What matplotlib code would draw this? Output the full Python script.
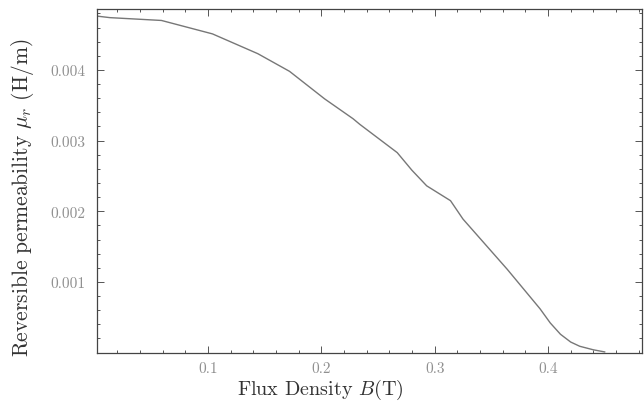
import matplotlib
matplotlib.use('Agg')
import matplotlib.pyplot as plt
from matplotlib.ticker import MultipleLocator, FuncFormatter

# ── data ──────────────────────────────────────────────────────────────────
flux_b = [0.003, 0.0135, 0.059, 0.104, 0.144, 0.172, 0.203, 0.228, 0.234,
          0.267, 0.28, 0.293, 0.314, 0.325, 0.364, 0.393, 0.402, 0.411,
          0.420, 0.428, 0.440, 0.450]
mu_rev = [0.00476, 0.00474, 0.00470, 0.00451, 0.00423, 0.00398, 0.00359,
          0.00331, 0.00323, 0.00283, 0.00258, 0.00236, 0.00215, 0.00189,
          0.00118, 0.00062, 0.00042, 0.00026, 0.00015, 0.00009, 0.00004,
          0.00001]

x_ticks = [0.1, 0.2, 0.3, 0.4]
y_ticks = [0.001, 0.002, 0.003, 0.004]

plt.rcParams['mathtext.fontset'] = 'cm'
plt.rcParams['font.family'] = ['cmr10', 'DejaVu Serif']
plt.rcParams['axes.formatter.use_mathtext'] = True

fig = plt.figure(figsize=(6.44, 4.06), dpi=100)
ax = fig.add_axes([0.150, 0.129, 0.847, 0.846])

ax.plot(flux_b, mu_rev, color='#777777', lw=1.0)

ax.set_xlim(0.0018, 0.483)
ax.set_ylim(0, 0.00486)

ax.set_xticks(x_ticks)
ax.set_yticks(y_ticks)
ax.xaxis.set_minor_locator(MultipleLocator(0.02))
ax.yaxis.set_minor_locator(MultipleLocator(0.0002))
ax.xaxis.set_major_formatter(FuncFormatter(lambda v, p: f"{v:.1f}"))
ax.yaxis.set_major_formatter(FuncFormatter(lambda v, p: f"{v:.3f}"))

ax.tick_params(which='both', direction='in', top=True, right=True,
               color='#555555', width=0.7)
ax.tick_params(which='major', length=5, labelsize=11, labelcolor='#909090', pad=8)
ax.tick_params(axis='x', which='major', pad=6)
ax.tick_params(which='minor', length=2.5)
for s in ax.spines.values():
    s.set_color('#444444')
    s.set_linewidth(0.9)

ax.set_xlabel(r"Flux Density $B$(T)", fontsize=14.5, color='#333333')
ax.set_ylabel(r"Reversible permeability $\mu_r$ (H/m)", fontsize=15.5,
              color='#333333')
ax.xaxis.set_label_coords(0.411, -0.07)
ax.yaxis.set_label_coords(-0.112, 0.455)

fig.savefig('out.png', dpi=100)
